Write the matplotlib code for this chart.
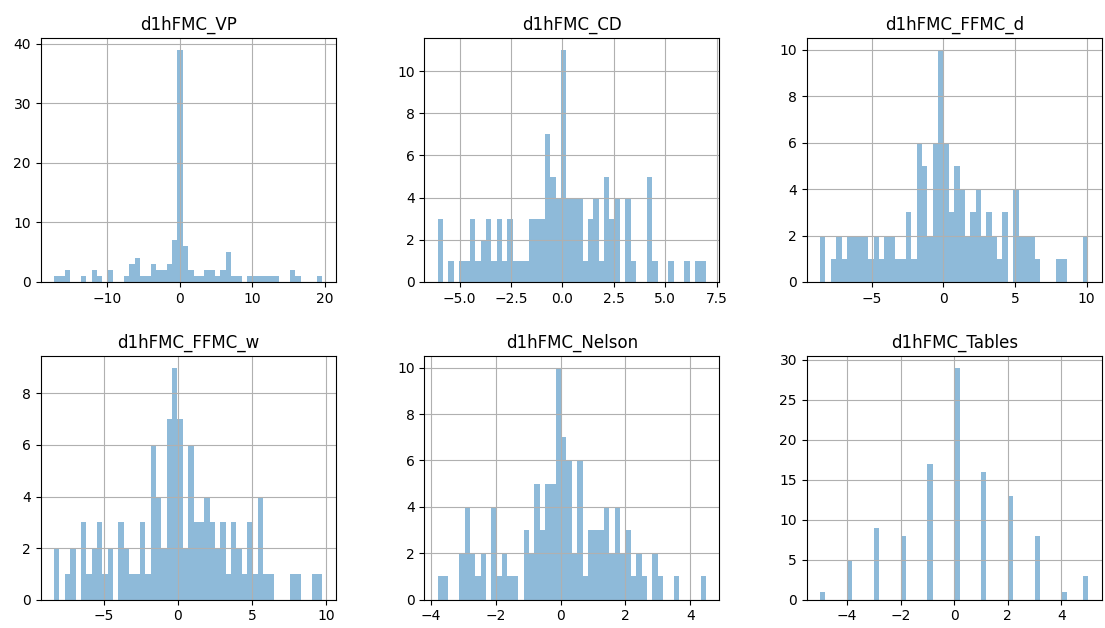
import numpy as np
import matplotlib
matplotlib.use("Agg")
import matplotlib.pyplot as plt

titles = ["d1hFMC_VP", "d1hFMC_CD", "d1hFMC_FFMC_d",
          "d1hFMC_FFMC_w", "d1hFMC_Nelson", "d1hFMC_Tables"]

# data range (min, max) of each column
vp_range = (-17.34, 19.63)
cd_range = (-6.07, 6.98)
ffmc_d_range = (-8.60, 10.12)
ffmc_w_range = (-8.36, 9.75)
nelson_range = (-3.79, 4.48)

# bin counts (50 bins each)
vp_counts = [1, 1, 2, 0, 0, 1, 0, 2, 1, 0,
             2, 0, 0, 1, 3, 4, 1, 1, 3, 2,
             2, 3, 7, 39, 6, 2, 1, 1, 2, 2,
             1, 2, 5, 1, 1, 0, 1, 1, 1, 1,
             1, 1, 0, 0, 2, 1, 0, 0, 0, 1]
cd_counts = [3, 0, 1, 0, 1, 1, 3, 1, 2, 3,
             1, 3, 1, 3, 1, 1, 1, 3, 3, 3,
             7, 5, 4, 11, 4, 4, 4, 1, 3, 4,
             1, 5, 3, 4, 0, 4, 1, 0, 0, 5,
             1, 0, 0, 1, 0, 0, 1, 0, 1, 1]
ffmc_d_counts = [2, 0, 1, 2, 1, 2, 2, 2, 2, 1,
                 2, 1, 2, 2, 1, 1, 3, 1, 6, 5,
                 2, 6, 10, 6, 3, 5, 4, 2, 3, 4,
                 2, 3, 2, 1, 3, 0, 4, 2, 2, 2,
                 1, 0, 0, 0, 1, 1, 0, 0, 0, 2]
ffmc_w_counts = [2, 0, 1, 2, 0, 3, 1, 2, 3, 1,
                 2, 0, 3, 2, 1, 1, 3, 1, 6, 4,
                 2, 7, 9, 7, 2, 6, 3, 3, 4, 3,
                 2, 3, 1, 3, 2, 1, 3, 1, 4, 1,
                 1, 0, 0, 0, 1, 1, 0, 0, 1, 1]
nelson_counts = [1, 1, 0, 0, 2, 4, 2, 1, 2, 0,
                 4, 1, 2, 1, 1, 0, 3, 2, 5, 3,
                 5, 5, 10, 7, 6, 2, 6, 1, 3, 3,
                 3, 4, 2, 4, 2, 3, 1, 2, 1, 0,
                 2, 1, 0, 0, 1, 0, 0, 0, 0, 1]
tables_values = [-5, -4, -3, -2, -1, 0, 1, 2, 3, 4, 5]
tables_counts = [1, 5, 9, 8, 17, 29, 16, 13, 8, 1, 3]

W, H = 1105, 628
fig = plt.figure(figsize=(W / 100, H / 100), dpi=100)

col_left = [40.7, 424.3, 806.7]
row_top = [38.3, 356.0]
ax_w, ax_h = 295.0, 243.7

binned = [(vp_range, vp_counts), (cd_range, cd_counts), (ffmc_d_range, ffmc_d_counts),
          (ffmc_w_range, ffmc_w_counts), (nelson_range, nelson_counts)]

for i, title in enumerate(titles):
    r, c = divmod(i, 3)
    left = col_left[c] / W
    bottom = (H - row_top[r] - ax_h) / H
    ax = fig.add_axes([left, bottom, ax_w / W, ax_h / H])
    if i < 5:
        (lo, hi), counts = binned[i]
        edges = np.linspace(lo, hi, 51)
        centers = 0.5 * (edges[:-1] + edges[1:])
        ax.hist(centers, bins=edges, weights=counts, color="C0", alpha=0.5)
    else:
        ax.hist(tables_values, bins=50, weights=tables_counts, color="C0", alpha=0.5)
    ax.set_title(title, fontsize=12)
    ax.grid(True)
    ax.tick_params(labelsize=10)

fig.savefig("out.png", dpi=100)
